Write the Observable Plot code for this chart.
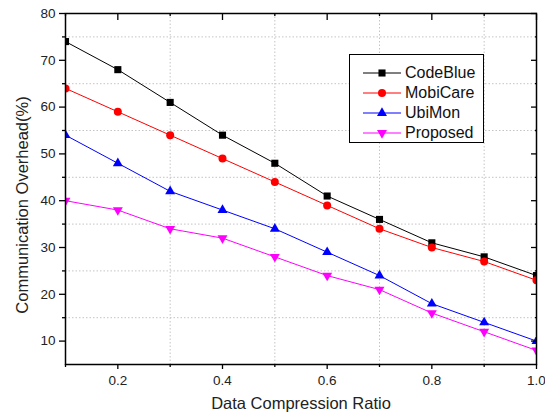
<!DOCTYPE html>
<html>
<head>
<meta charset="utf-8">
<script src="https://cdn.jsdelivr.net/npm/d3@7"></script>
<script src="https://cdn.jsdelivr.net/npm/@observablehq/plot@0.6"></script>
<style>
  html, body { margin: 0; padding: 0; background: #fff; }
  #wrap { position: relative; width: 545px; height: 419px; font-family: "Liberation Sans", Arial, sans-serif; }
  #legend { position: absolute; border: 1px solid #000; background: #fff; box-sizing: border-box; }
  .row { display: flex; align-items: center; height: 20px; }
  .row span { font-size: 16px; color: #111; margin-left: 4px; }
</style>
</head>
<body>
<div id="wrap"></div>
<script>
const ratios = [0.1, 0.2, 0.3, 0.4, 0.5, 0.6, 0.7, 0.8, 0.9, 1.0];
const codeBlue = [74, 68, 61, 54, 48, 41, 36, 31, 28, 24];
const mobiCare = [64, 59, 54, 49, 44, 39, 34, 30, 27, 23];
const ubiMon   = [54, 48, 42, 38, 34, 29, 24, 18, 14, 10];
const proposed = [40, 38, 34, 32, 28, 24, 21, 16, 12, 8];

const seriesNames = ["CodeBlue", "MobiCare", "UbiMon", "Proposed"];
const seriesValues = [codeBlue, mobiCare, ubiMon, proposed];
const seriesColors = ["#000000", "#ff0000", "#0000ff", "#ff00ff"];
const seriesSymbols = ["square", "circle", "triangle", "triangle"];
const seriesRotate = [0, 0, 0, 180];
const seriesR = [4, 4, 3.7, 3.7];

const xMajor = [0.2, 0.4, 0.6, 0.8, 1.0];
const xMinor = [0.1, 0.3, 0.5, 0.7, 0.9];
const yMajor = [10, 20, 30, 40, 50, 60, 70, 80];
const yMinor = [15, 25, 35, 45, 55, 65, 75];
const xTitle = "Data Compression Ratio";
const yTitle = "Communication Overhead(%)";

const marks = [];
marks.push(Plot.gridX(xMinor, {stroke: "#c4c4c4", strokeOpacity: 1, strokeDasharray: "1.5,2"}));
marks.push(Plot.gridY(yMinor, {stroke: "#c4c4c4", strokeOpacity: 1, strokeDasharray: "1.5,2"}));

seriesNames.forEach((name, i) => {
  const data = ratios.map((r, j) => ({x: r, y: seriesValues[i][j]}));
  marks.push(Plot.line(data, {x: "x", y: "y", stroke: seriesColors[i], strokeWidth: 1}));
  marks.push(Plot.dot(data, {x: "x", y: "y", symbol: seriesSymbols[i], fill: seriesColors[i], r: seriesR[i], rotate: seriesRotate[i], clip: true}));
});

// axes
marks.push(Plot.axisX(xMajor, {anchor: "bottom", tickSize: 5, tickPadding: 6, tickFormat: d3.format(".1f"), stroke: "#000", strokeWidth: 1.3, fontSize: 13.5, fill: "#222", label: null}));
marks.push(Plot.axisX(xMinor, {anchor: "bottom", tickSize: 3, tickFormat: () => "", stroke: "#000", strokeWidth: 1.3, label: null}));
marks.push(Plot.axisX(xMajor, {anchor: "top", tickSize: -6, tickFormat: () => "", stroke: "#000", strokeWidth: 1.3, label: null}));
marks.push(Plot.axisX(xMinor, {anchor: "top", tickSize: -2, tickFormat: () => "", stroke: "#000", strokeWidth: 1.3, label: null}));
marks.push(Plot.axisY(yMajor, {anchor: "left", tickSize: 6, tickPadding: 4, stroke: "#000", strokeWidth: 1.3, fontSize: 13.5, fill: "#222", label: null}));
marks.push(Plot.axisY(yMinor, {anchor: "left", tickSize: 3, tickFormat: () => "", stroke: "#000", strokeWidth: 1.3, label: null}));
marks.push(Plot.axisY(yMajor, {anchor: "right", tickSize: -6, tickFormat: () => "", stroke: "#000", strokeWidth: 1.3, label: null}));
marks.push(Plot.axisY(yMinor, {anchor: "right", tickSize: -2, tickFormat: () => "", stroke: "#000", strokeWidth: 1.3, label: null}));
marks.push(Plot.frame({stroke: "#000", strokeWidth: 1.5}));
marks.push(Plot.text([xTitle], {frameAnchor: "bottom", dy: 44, fontSize: 16.5, fill: "#222", text: d => d}));
marks.push(Plot.text([yTitle], {frameAnchor: "left", textAnchor: "middle", dx: -43, dy: 16, rotate: -90, fontSize: 16.5, fill: "#222", text: d => d}));

const chart = Plot.plot({
  width: 545,
  height: 419,
  marginLeft: 65,
  marginRight: 9,
  marginTop: 13,
  marginBottom: 55,
  style: {fontFamily: "'Liberation Sans', Arial, sans-serif", fontSize: "15px", background: "#fff", color: "#222", overflow: "visible"},
  x: {domain: [0.1, 1.0]},
  y: {domain: [5, 80]},
  marks
});
const wrap = document.getElementById("wrap");
wrap.appendChild(chart);

// legend
const legend = document.createElement("div");
legend.id = "legend";
legend.style.left = "349px";
legend.style.top = "54px";
legend.style.width = "135px";
legend.style.height = "89px";
legend.style.padding = "8px 0 0 13px";
seriesNames.forEach((name, i) => {
  const row = document.createElement("div");
  row.className = "row";
  const svg = d3.create("svg").attr("width", 38).attr("height", 20);
  svg.append("line").attr("x1", 0).attr("x2", 38).attr("y1", 10).attr("y2", 10).attr("stroke", seriesColors[i]).attr("stroke-width", 1);
  const symType = {square: d3.symbolSquare, circle: d3.symbolCircle, triangle: d3.symbolTriangle}[seriesSymbols[i]];
  svg.append("path").attr("d", d3.symbol(symType, Math.PI * seriesR[i] * seriesR[i])())
    .attr("transform", `translate(19,10) rotate(${seriesRotate[i]})`).attr("fill", seriesColors[i]);
  row.appendChild(svg.node());
  const t = document.createElement("span");
  t.textContent = name;
  row.appendChild(t);
  legend.appendChild(row);
});
wrap.appendChild(legend);
</script>
</body>
</html>
